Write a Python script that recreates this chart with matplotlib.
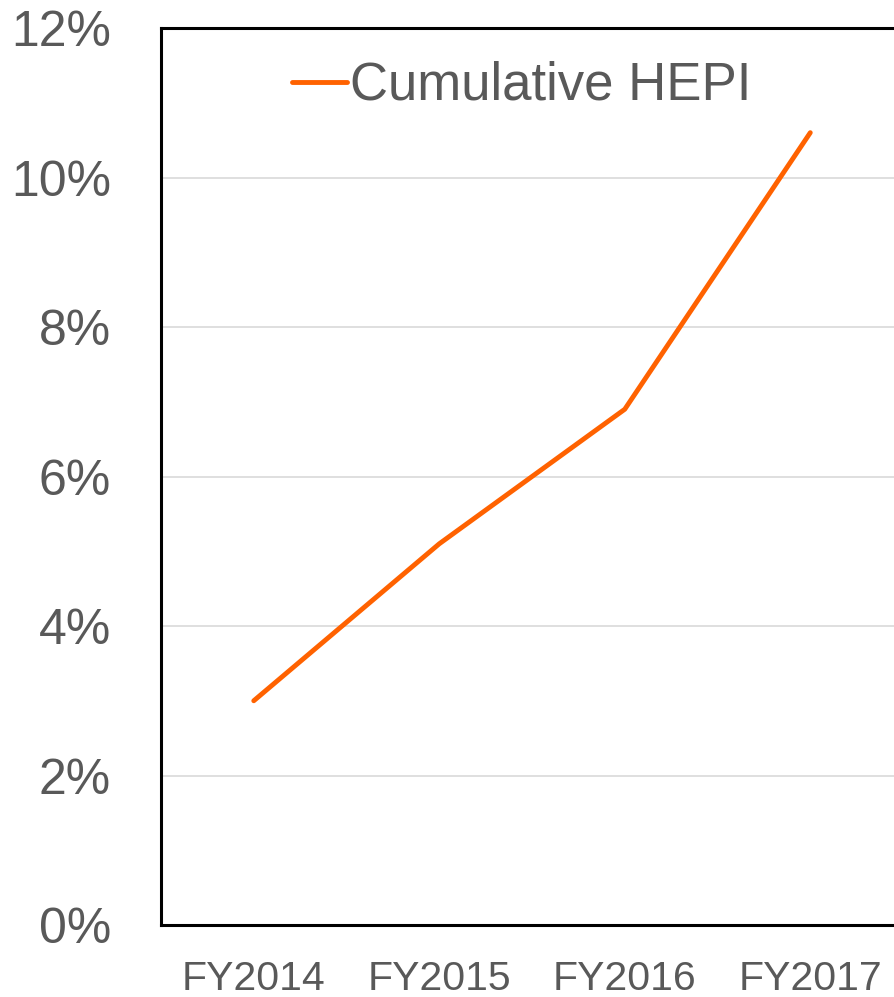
import matplotlib
matplotlib.use("Agg")
from matplotlib import pyplot as plt
from matplotlib.ticker import FuncFormatter

plt.rcParams["font.family"] = ["Liberation Sans", "DejaVu Sans"]

years = ["FY2014", "FY2015", "FY2016", "FY2017"]
hepi = [3.0, 5.1, 6.9, 10.6]
y_ticks = [0, 2, 4, 6, 8, 10, 12]

LINE_COLOR = "#FF6200"
TEXT_COLOR = "#595959"


def percent(value, _):
    """format tick as whole percent"""
    return f"{value:.0f}%"


fig = plt.figure(figsize=(8.94, 9.97), dpi=100)
axes = fig.add_axes([0.1801, 0.0722, 0.8300, 0.8997])

axes.plot(range(len(years)), hepi, color=LINE_COLOR, linewidth=3.5,
          solid_capstyle="round", label="Cumulative HEPI")

axes.set_xlim(-0.5, len(years) - 0.5)
axes.set_ylim(0, 12)
axes.set_xticks(range(len(years)))
axes.set_xticklabels(years)
axes.set_yticks(y_ticks)
axes.yaxis.set_major_formatter(FuncFormatter(percent))

axes.grid(axis="y", color="#d9d9d9", linewidth=1.2)
axes.set_axisbelow(True)
for side in ["left", "top", "bottom"]:
    axes.spines[side].set_color("black")
    axes.spines[side].set_linewidth(2.2)
axes.spines["right"].set_visible(False)

axes.tick_params(axis="y", length=0, pad=36, labelsize=36, labelcolor=TEXT_COLOR)
axes.tick_params(axis="x", length=0, pad=25, labelsize=29.5, labelcolor=TEXT_COLOR)

leg = axes.legend(loc="upper left", bbox_to_anchor=(292 / 894, 1 - 61 / 997),
                  bbox_transform=fig.transFigure, frameon=False,
                  fontsize=38, handlelength=1.05, handletextpad=0.05,
                  borderpad=0, borderaxespad=0)
for txt in leg.get_texts():
    txt.set_color(TEXT_COLOR)

fig.savefig("out.png", dpi=100)
